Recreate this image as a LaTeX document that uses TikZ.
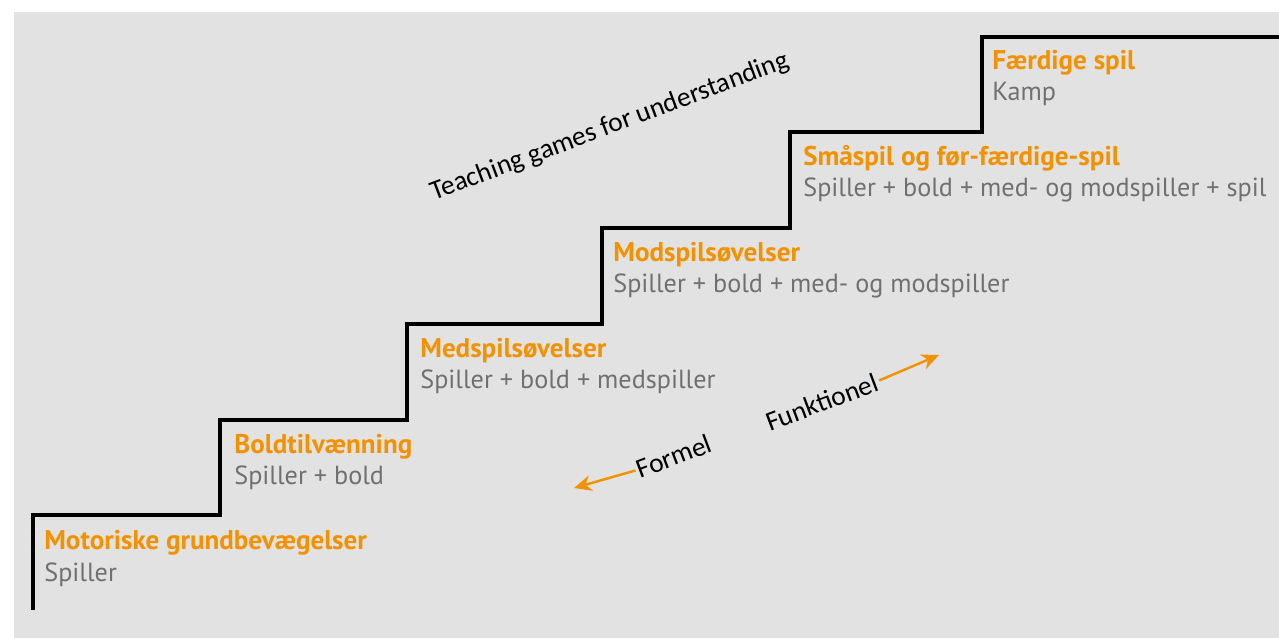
\documentclass[tikz,border=0pt]{standalone}
\usepackage{fontspec}
\setmainfont{PT Sans}
\newfontfamily\notefont{Carlito}
\usetikzlibrary{arrows.meta}
\definecolor{stagegray}{RGB}{226,226,226}
\definecolor{stageorange}{RGB}{243,146,0}
\definecolor{subgray}{RGB}{112,112,112}

\begin{document}
\begin{tikzpicture}[x=0.02cm,y=-0.02cm,>={Stealth[length=10pt,width=9pt]},
    stage title/.style={anchor=base west,inner sep=0pt,text=stageorange,font=\fontsize{15.4}{18}\selectfont\bfseries},
    stage sub/.style={anchor=base west,inner sep=0pt,text=subgray,font=\fontsize{14.9}{18}\selectfont},
    note/.style={inner sep=1pt,rotate=20.6,font=\notefont\fontsize{15.6}{18}\selectfont}]

   \useasboundingbox (0,0) rectangle (1279,638);
   \fill[stagegray] (14,12) rectangle (1279,638);

   % the stairs
   \draw[line width=1.8pt] (33,610) |- (220,515) |- (407,420) |- (602,324)
      |- (790,228) |- (982,132) |- (1279,37);

   \node[stage title] (motor) at (44,550) {Motoriske grundbevægelser};
   \node[stage sub] (motorsub) at (44,582) {Spiller};

   \node[stage title] (bold) at (234,454) {Boldtilvænning};
   \node[stage sub] (boldsub) at (234,485) {Spiller + bold};

   \node[stage title] (med) at (420,358) {Medspilsøvelser};
   \node[stage sub] (medsub) at (420,389) {Spiller + bold + medspiller};

   \node[stage title] (mod) at (613,262) {Modspilsøvelser};
   \node[stage sub] (modsub) at (613,293) {Spiller + bold + med- og modspiller};

   \node[stage title] (smaa) at (803,166) {Småspil og før-færdige-spil};
   \node[stage sub] (smaasub) at (803,197) {Spiller + bold + med- og modspiller + spil};

   \node[stage title] (faerdig) at (992,70) {Færdige spil};
   \node[stage sub] (faerdigsub) at (992,101) {Kamp};

   \node[note] (tgfu) at (610,127) {Teaching games for understanding};

   % formel / funktionel
   \node[note] (formel) at (674,456) {Formel};
   \node[note] (funk) at (822,402) {Funktionel};
   \coordinate (formeltip) at (574,488);
   \coordinate (funktip) at (939,355);
   \draw[->,stageorange,line width=1.4pt] (formel.west) -- (formeltip);
   \draw[->,stageorange,line width=1.4pt] (funk.east) -- (funktip);
\end{tikzpicture}
\end{document}
